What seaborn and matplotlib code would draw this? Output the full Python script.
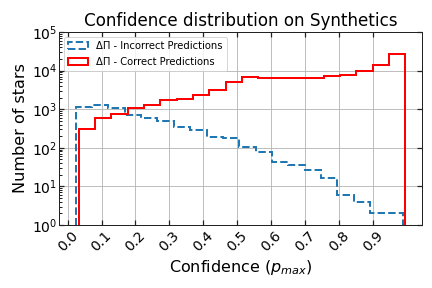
import numpy as np
import matplotlib
matplotlib.use("Agg")
import matplotlib.pyplot as plt
import seaborn as sns

sns.set_theme(style="whitegrid", rc={
    "axes.edgecolor": "#222222",
    "axes.linewidth": 1.0,
    "grid.color": "#b0b0b0",
    "grid.linewidth": 0.8,
    "xtick.direction": "in",
    "ytick.direction": "in",
    "xtick.top": True,
    "ytick.right": True,
    "xtick.bottom": True,
    "ytick.left": True,
    "text.color": "black",
    "axes.labelcolor": "black",
    "xtick.color": "black",
    "ytick.color": "black",
})
plt.rcParams["font.family"] = ["DejaVu Sans"]

# ── Data: 20 bins per class, counts ──────────────────────────────────
incorrect_range = (0.0236, 0.989)
correct_range   = (0.0325, 0.996)

incorrect_counts = [1150, 1290, 1040, 710, 585, 490, 350, 290, 185, 175,
                    104, 77, 43, 36, 26, 16, 6, 4, 2, 2]
correct_counts   = [300, 590, 760, 1060, 1290, 1710, 1850, 2350, 3100, 5100,
                    6800, 6400, 6400, 6400, 6400, 7200, 7800, 9500, 14000, 27500]

xticks = [0.0, 0.1, 0.2, 0.3, 0.4, 0.5, 0.6, 0.7, 0.8, 0.9]

inc_edges = np.linspace(*incorrect_range, len(incorrect_counts) + 1)
cor_edges = np.linspace(*correct_range, len(correct_counts) + 1)
inc_mid = (inc_edges[:-1] + inc_edges[1:]) / 2
cor_mid = (cor_edges[:-1] + cor_edges[1:]) / 2

fig = plt.figure(figsize=(6, 4), dpi=72)
ax = fig.add_axes([0.137, 0.219, 0.839, 0.670])

ax.hist(inc_mid, bins=inc_edges, weights=incorrect_counts, histtype="step",
        linestyle="--", linewidth=2, color="#1f77b4",
        label="ΔΠ - Incorrect Predictions")
ax.hist(cor_mid, bins=cor_edges, weights=correct_counts, histtype="step",
        linewidth=2, color="red", label="ΔΠ - Correct Predictions")

ax.set_yscale("log")
ax.set_ylim(1, 1e5)
ax.set_xticks(xticks)
ax.set_xticklabels([f"{t:.1f}" for t in xticks], rotation=45)
ax.tick_params(axis="both", which="major", labelsize=14, length=5, color="#222222")
ax.tick_params(axis="y", which="major", pad=2)
ax.tick_params(axis="y", which="minor", length=2.5, color="#222222", left=True, right=False)
ax.grid(True, which="major")
ax.grid(False, which="minor")

ax.set_title("Confidence distribution on Synthetics", fontsize=16.8)
ax.set_xlabel("Confidence ($p_{max}$)", fontsize=16)
ax.set_ylabel("Number of stars", fontsize=16)
ax.legend(loc="upper left", fontsize=10, frameon=True, labelspacing=0.6)

fig.savefig("out.png", dpi=72)
